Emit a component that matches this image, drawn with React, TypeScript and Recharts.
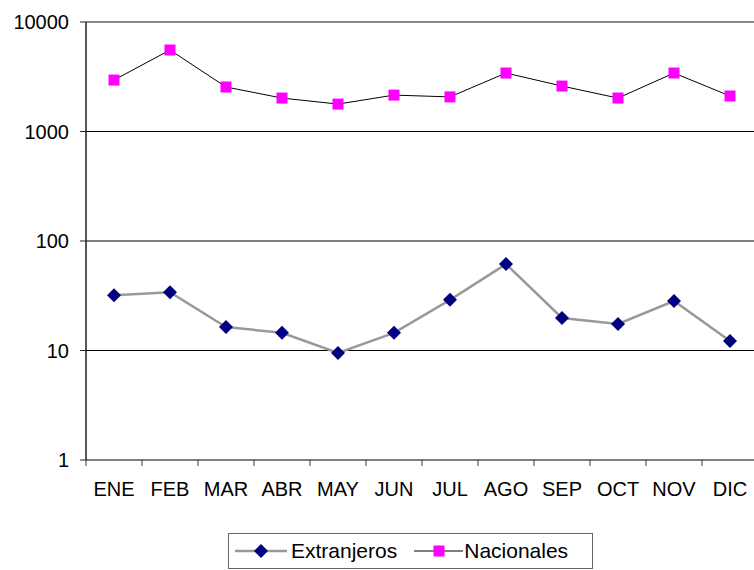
import React from 'react'
import { LineChart, Line, XAxis, YAxis, ReferenceLine } from 'recharts'

const months = ['ENE', 'FEB', 'MAR', 'ABR', 'MAY', 'JUN', 'JUL', 'AGO', 'SEP', 'OCT', 'NOV', 'DIC']
const extranjeros = [32, 34, 16.4, 14.5, 9.5, 14.5, 29, 61.5, 19.8, 17.5, 28.3, 12.2]
const nacionales = [2950, 5550, 2550, 2020, 1780, 2150, 2070, 3420, 2600, 2020, 3420, 2110]
const yTicks = [1, 10, 100, 1000, 10000]
const gridValues = [10, 100, 1000]

// each month sits in the middle of its band, like the excel original
const chartData = months.map((m, i) => ({
  x: i + 0.5,
  name: m,
  extranjeros: extranjeros[i],
  nacionales: nacionales[i],
}))
const bandTicks = [...months.map((_m, i) => i), months.length]

const FONT = '"Liberation Sans", Arial, sans-serif'
const BAND_HALF = 28

const Diamond = ({ cx, cy, fill }: any) => (
  <polygon points={`${cx},${cy - 7} ${cx + 7},${cy} ${cx},${cy + 7} ${cx - 7},${cy}`} fill={fill} />
)

const Square = ({ cx, cy, fill }: any) => (
  <rect x={cx - 5.5} y={cy - 5.5} width={11} height={11} fill={fill} />
)

const MonthTick = (props: any) => {
  const { x, y, payload } = props
  const label = months[payload.value]
  if (!label) return null
  return (
    <text x={x + BAND_HALF} y={y + 30} textAnchor="middle" fill="#000" style={{ fontSize: 20, fontFamily: FONT }}>
      {label}
    </text>
  )
}

export default function App() {
  return (
    <div style={{ position: 'absolute', left: 0, top: 0, width: 754, height: 570, overflow: 'hidden', background: '#fff' }}>
      <LineChart width={760} height={570} data={chartData} margin={{ top: 22, right: 2, left: 0, bottom: 0 }}>
        <XAxis
          dataKey="x"
          type="number"
          domain={[0, 12]}
          ticks={bandTicks}
          interval={0}
          height={110}
          axisLine={{ stroke: '#808080', strokeWidth: 2 }}
          tickLine={{ stroke: '#333' }}
          tickSize={6}
          tickMargin={0}
          tick={<MonthTick />}
        />
        <YAxis
          scale="log"
          domain={[1, 10000]}
          ticks={yTicks}
          interval={0}
          allowDataOverflow
          width={86}
          axisLine={{ stroke: '#222', strokeWidth: 1.5 }}
          tickLine={{ stroke: '#222' }}
          tickSize={6}
          tickMargin={11}
          tick={{ fill: '#000', fontSize: 20, fontFamily: FONT }}
        />
        {gridValues.map(v => (
          <ReferenceLine key={v} y={v} stroke="#000" strokeWidth={1} />
        ))}
        <ReferenceLine y={10000} stroke="#888" strokeWidth={2} />
        <Line
          dataKey="extranjeros"
          type="linear"
          stroke="#999999"
          strokeWidth={2.5}
          isAnimationActive={false}
          dot={(p: any) => <Diamond key={`d-${p.index}`} cx={p.cx} cy={p.cy} fill="#000080" />}
        />
        <Line
          dataKey="nacionales"
          type="linear"
          stroke="#000"
          strokeWidth={1}
          isAnimationActive={false}
          dot={(p: any) => <Square key={`s-${p.index}`} cx={p.cx} cy={p.cy} fill="#FF00FF" />}
        />
      </LineChart>
      <div
        style={{
          position: 'absolute',
          left: 228,
          top: 533,
          width: 363,
          height: 34,
          border: '1px solid #666',
          fontFamily: FONT,
          fontSize: 21,
          display: 'flex',
          alignItems: 'center',
        }}
      >
        <svg width={60} height={20} style={{ marginLeft: 5 }}>
          <line x1={1} y1={10} x2={53} y2={10} stroke="#999999" strokeWidth={2.5} />
          <Diamond cx={27} cy={10} fill="#000080" />
        </svg>
        <span style={{ marginLeft: -3 }}>Extranjeros</span>
        <svg width={60} height={20} style={{ marginLeft: 12 }}>
          <line x1={5} y1={10} x2={54} y2={10} stroke="#000" strokeWidth={1} />
          <Square cx={30} cy={10} fill="#FF00FF" />
        </svg>
        <span style={{ marginLeft: -5 }}>Nacionales</span>
      </div>
    </div>
  )
}
